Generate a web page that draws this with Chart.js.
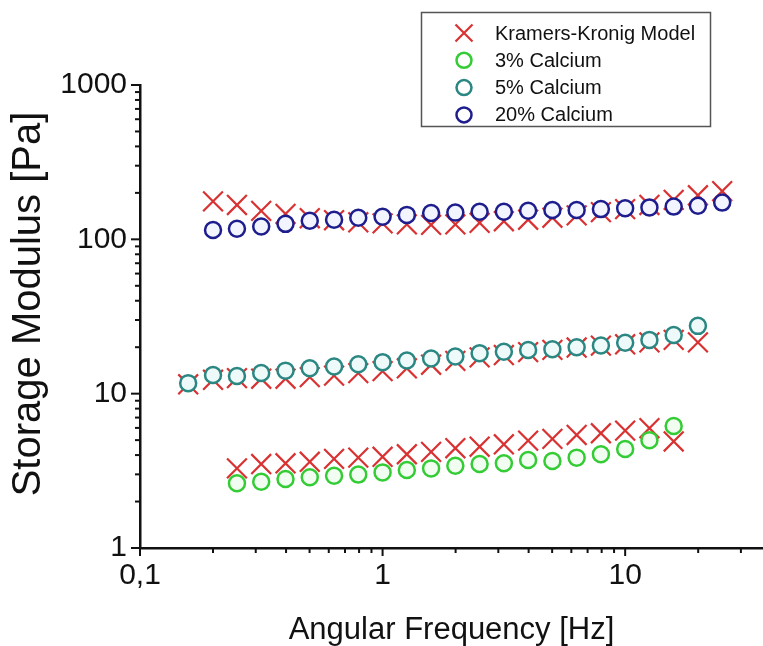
<!DOCTYPE html>
<html>
<head>
<meta charset="utf-8">
<title>Storage Modulus</title>
<script src="https://cdn.jsdelivr.net/npm/chart.js"></script>
<style>
    html, body { margin: 0; padding: 0; background: #ffffff; }
    #chart-wrap { width: 763px; height: 646px; }
</style>
</head>
<body>
<div id="chart-wrap">
    <canvas id="modulus-chart" width="763" height="646"></canvas>
</div>
<script>
// Angular frequency grids [Hz], one per sample
const freq3 = [0.251, 0.316, 0.398, 0.501, 0.631, 0.794, 1, 1.259, 1.585, 1.995,
    2.512, 3.162, 3.981, 5.012, 6.31, 7.943, 10, 12.59, 15.85];
const freq5 = [0.158, 0.2, 0.251, 0.316, 0.398, 0.501, 0.631, 0.794, 1, 1.259, 1.585,
    1.995, 2.512, 3.162, 3.981, 5.012, 6.31, 7.943, 10, 12.59, 15.85, 19.95];
const freq20 = [0.2, 0.251, 0.316, 0.398, 0.501, 0.631, 0.794, 1, 1.259, 1.585,
    1.995, 2.512, 3.162, 3.981, 5.012, 6.31, 7.943, 10, 12.59, 15.85, 19.95, 25.12];

// Measured storage modulus [Pa]
const calcium3 = [2.63, 2.69, 2.8, 2.87, 2.94, 2.99, 3.09, 3.2, 3.28, 3.41,
    3.5, 3.54, 3.72, 3.66, 3.85, 4.05, 4.38, 5.0, 6.17];
const calcium5 = [11.7, 13.2, 13.0, 13.6, 14.1, 14.6, 15.0, 15.5, 16.0, 16.4, 16.9,
    17.4, 18.3, 18.7, 19.2, 19.4, 20.0, 20.5, 21.4, 22.3, 24.0, 27.5];
const calcium20 = [115, 117, 121, 126, 132, 134, 138, 140, 144, 148, 149,
    151, 151, 153, 155, 155, 157, 159, 161, 163, 165, 173];

// Kramers-Kronig model for each sample [Pa]
const kk3 = [3.28, 3.5, 3.54, 3.62, 3.78, 3.85, 3.9, 4.05, 4.2, 4.43,
    4.53, 4.7, 4.96, 5.09, 5.4, 5.54, 5.76, 5.97, 4.9];
const kk5 = [11.5, 12.3, 12.6, 12.5, 12.5, 12.8, 13.1, 13.6, 14.0, 14.6, 15.4,
    16.3, 17.2, 17.8, 18.6, 19.2, 19.9, 20.5, 20.9, 21.5, 22.3, 21.5];
const kk20 = [176, 167, 153, 146, 137, 133, 129, 127, 125, 124, 125,
    128, 131, 134, 138, 143, 150, 157, 167, 180, 193, 205];

// Axis ticks (labels only on decades)
const xTicks = [0.1, 0.2, 0.3, 0.4, 0.5, 0.6, 0.7, 0.8, 0.9,
    1, 2, 3, 4, 5, 6, 7, 8, 9, 10, 20, 30];
const xLabels = { 0.1: '0,1', 1: '1', 10: '10' };
const yTicks = [1, 2, 3, 4, 5, 6, 7, 8, 9, 10, 20, 30, 40, 50, 60, 70, 80, 90,
    100, 200, 300, 400, 500, 600, 700, 800, 900, 1000];
const yLabels = { 1: '1', 10: '10', 100: '100', 1000: '1000' };

const FONT = 'Liberation Sans, Arial, Helvetica, sans-serif';
const AXIS_COLOR = '#111111';
const Y_TITLE = 'Storage Modulus [Pa]';

const styles = {
    kk: { color: '#d83232' },
    c3: { color: '#34cc34', fill: '#f1fdf1' },
    c5: { color: '#2a8782', fill: '#eefafa' },
    c20: { color: '#1d1d8e', fill: '#f2f4ff' }
};

function toPoints(xs, ys) {
    return xs.map((x, i) => ({ x: x, y: ys[i] }));
}

function circleDataset(label, xs, ys, style) {
    return {
        label: label,
        data: toPoints(xs, ys),
        pointStyle: 'circle',
        pointRadius: 8,
        pointHoverRadius: 8,
        borderWidth: 2.5,
        borderColor: style.color,
        backgroundColor: style.fill,
        order: 0
    };
}

/**
 * Draws major/minor tick marks on the log axes and the vertical axis title
 */
const logTicksPlugin = {
    id: 'logTicks',
    afterDraw(chart) {
        const ctx = chart.ctx;
        const area = chart.chartArea;
        ctx.save();
        ctx.strokeStyle = AXIS_COLOR;
        ctx.lineWidth = 2;

        xTicks.forEach(v => {
            const px = chart.scales.x.getPixelForValue(v);
            const len = xLabels[v] ? 8 : 5;
            ctx.beginPath();
            ctx.moveTo(px, area.bottom);
            ctx.lineTo(px, area.bottom + len);
            ctx.stroke();
        });

        yTicks.forEach(v => {
            const py = chart.scales.y.getPixelForValue(v);
            const len = yLabels[v] ? 9 : 5;
            ctx.beginPath();
            ctx.moveTo(area.left, py);
            ctx.lineTo(area.left - len, py);
            ctx.stroke();
        });

        // y title, rotated
        ctx.translate(29, 304);
        ctx.rotate(-Math.PI / 2);
        ctx.font = '40px ' + FONT;
        ctx.fillStyle = '#111111';
        ctx.textAlign = 'center';
        ctx.textBaseline = 'middle';
        ctx.fillText(Y_TITLE, 0, 0);
        ctx.restore();
    }
};

/**
 * Boxed legend inside the plot
 */
const boxLegendPlugin = {
    id: 'boxLegend',
    afterDraw(chart) {
        const ctx = chart.ctx;
        const box = { x: 421.5, y: 12.5, w: 289, h: 114 };
        const entries = [
            { label: 'Kramers-Kronig Model', style: styles.kk, cross: true },
            { label: '3% Calcium', style: styles.c3 },
            { label: '5% Calcium', style: styles.c5 },
            { label: '20% Calcium', style: styles.c20 }
        ];

        ctx.save();
        ctx.fillStyle = '#ffffff';
        ctx.fillRect(box.x, box.y, box.w, box.h);
        ctx.strokeStyle = '#555555';
        ctx.lineWidth = 1.5;
        ctx.strokeRect(box.x, box.y, box.w, box.h);

        ctx.font = '20px ' + FONT;
        ctx.textBaseline = 'middle';
        ctx.textAlign = 'left';

        entries.forEach((e, i) => {
            const cy = 33 + i * 27.3;
            const cx = 464;
            if (e.cross) {
                ctx.strokeStyle = e.style.color;
                ctx.lineWidth = 2.2;
                ctx.beginPath();
                ctx.moveTo(cx - 8.5, cy - 8.5);
                ctx.lineTo(cx + 8.5, cy + 8.5);
                ctx.moveTo(cx + 8.5, cy - 8.5);
                ctx.lineTo(cx - 8.5, cy + 8.5);
                ctx.stroke();
            } else {
                ctx.strokeStyle = e.style.color;
                ctx.fillStyle = '#ffffff';
                ctx.lineWidth = 2.5;
                ctx.beginPath();
                ctx.arc(cx, cy, 7.5, 0, Math.PI * 2);
                ctx.fill();
                ctx.stroke();
            }
            ctx.fillStyle = '#111111';
            ctx.fillText(e.label, 495, cy + 1);
        });
        ctx.restore();
    }
};

const kkPoints = [
    ...toPoints(freq20, kk20),
    ...toPoints(freq5, kk5),
    ...toPoints(freq3, kk3)
];

const ctx = document.getElementById('modulus-chart').getContext('2d');

new Chart(ctx, {
    type: 'scatter',
    data: {
        datasets: [
            circleDataset('3% Calcium', freq3, calcium3, styles.c3),
            circleDataset('5% Calcium', freq5, calcium5, styles.c5),
            circleDataset('20% Calcium', freq20, calcium20, styles.c20),
            {
                label: 'Kramers-Kronig Model',
                data: kkPoints,
                pointStyle: 'crossRot',
                pointRadius: 14,
                pointHoverRadius: 14,
                borderWidth: 2.2,
                borderColor: styles.kk.color,
                backgroundColor: styles.kk.color,
                order: 1
            }
        ]
    },
    options: {
        responsive: false,
        animation: false,
        events: [],
        layout: {
            // axis runs to the right edge of the canvas
            autoPadding: false,
            padding: { top: 85, right: 0, bottom: 0, left: 0 }
        },
        plugins: {
            legend: { display: false },
            tooltip: { enabled: false }
        },
        scales: {
            x: {
                type: 'logarithmic',
                min: 0.1,
                max: 37,
                afterBuildTicks: scale => {
                    scale.ticks = xTicks.map(v => ({ value: v }));
                },
                afterFit: scale => {
                    scale.height = 98;
                    scale.paddingRight = 0;
                },
                grid: { display: true, drawOnChartArea: false, drawTicks: false },
                border: { display: true, color: AXIS_COLOR, width: 2.5 },
                ticks: {
                    autoSkip: false,
                    maxRotation: 0,
                    padding: 10,
                    color: '#111111',
                    font: { family: FONT, size: 30 },
                    callback: value => xLabels[value] || ''
                },
                title: {
                    display: true,
                    text: 'Angular Frequency [Hz]',
                    color: '#111111',
                    font: { family: FONT, size: 31, lineHeight: 1 },
                    padding: 0
                }
            },
            y: {
                type: 'logarithmic',
                min: 1,
                max: 1000,
                afterBuildTicks: scale => {
                    scale.ticks = yTicks.map(v => ({ value: v }));
                },
                afterFit: scale => {
                    scale.width = 140;
                },
                grid: { display: true, drawOnChartArea: false, drawTicks: false },
                border: { display: true, color: AXIS_COLOR, width: 2.5 },
                ticks: {
                    autoSkip: false,
                    padding: 13,
                    color: '#111111',
                    font: { family: FONT, size: 30 },
                    callback: value => yLabels[value] || ''
                }
            }
        }
    },
    plugins: [logTicksPlugin, boxLegendPlugin]
});
</script>
</body>
</html>
